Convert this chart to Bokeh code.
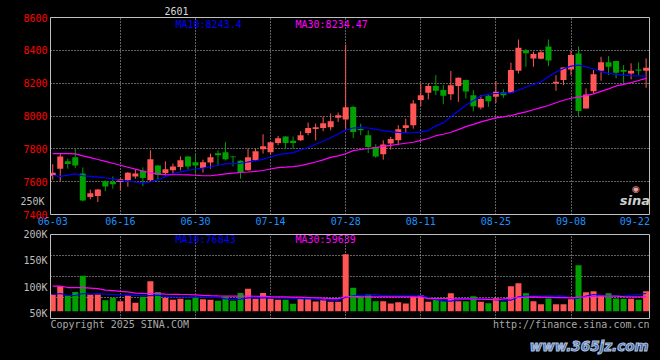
from bokeh.plotting import figure
from bokeh.models import (Range1d, FixedTicker, Label, ColumnDataSource, GlobalInlineStyleSheet,
                          LinearAxis, Title)
from bokeh.layouts import column
from bokeh.embed import file_html
from bokeh.resources import INLINE

# ---------------- data ----------------
CONTRACT = "2601"
DATE_TICK_INDEX = [0, 9, 19, 29, 39, 49, 59, 69, 79]
DATE_TICK_LABELS = ["06-03", "06-16", "06-30", "07-14", "07-28", "08-11", "08-25", "09-08", "09-22"]

OPEN = [7634, 7679, 7724, 7748, 7649, 7506, 7512, 7602, 7598, 7598,
        7608, 7632, 7667, 7608, 7699, 7653, 7669, 7689, 7754, 7718,
        7683, 7716, 7773, 7779, 7754, 7728, 7669, 7730, 7797, 7779,
        7836, 7875, 7850, 7852, 7897, 7921, 7927, 7932, 7989, 7978,
        8055, 7921, 7883, 7811, 7767, 7832, 7852, 7927, 7944, 8097,
        8141, 8182, 8158, 8133, 8182, 8219, 8127, 8052, 8123, 8117,
        8145, 8141, 8276, 8400, 8350, 8348, 8423, 8198, 8219, 8284,
        8381, 8046, 8151, 8276, 8327, 8335, 8280, 8259, 8284, 8276]
HIGH = [7706, 7771, 7740, 7799, 7687, 7551, 7556, 7608, 7632, 7618,
        7659, 7675, 7687, 7791, 7702, 7724, 7710, 7754, 7756, 7765,
        7734, 7771, 7791, 7840, 7756, 7730, 7801, 7801, 7889, 7842,
        7879, 7877, 7875, 7907, 7960, 7954, 7997, 8015, 8021, 8436,
        8062, 7954, 7913, 7828, 7852, 7873, 7944, 7984, 8097, 8198,
        8198, 8249, 8188, 8274, 8235, 8222, 8158, 8127, 8131, 8213,
        8162, 8325, 8466, 8408, 8392, 8403, 8466, 8249, 8296, 8398,
        8424, 8168, 8280, 8361, 8365, 8335, 8310, 8321, 8327, 8351]
LOW = [7612, 7602, 7679, 7683, 7480, 7492, 7476, 7543, 7557, 7547,
       7569, 7618, 7573, 7604, 7608, 7638, 7649, 7669, 7675, 7649,
       7655, 7679, 7699, 7730, 7693, 7618, 7667, 7728, 7771, 7765,
       7822, 7801, 7801, 7848, 7883, 7852, 7907, 7913, 7964, 7915,
       7866, 7883, 7775, 7746, 7734, 7795, 7822, 7897, 7923, 8060,
       8101, 8127, 8072, 8097, 8086, 8107, 8029, 8040, 8056, 8080,
       8111, 8141, 8259, 8300, 8300, 8345, 8304, 8153, 8188, 8249,
       7999, 8046, 8137, 8215, 8249, 8229, 8202, 8223, 8249, 8172]
CLOSE = [7655, 7754, 7708, 7699, 7486, 7530, 7553, 7571, 7585, 7614,
         7655, 7649, 7622, 7736, 7642, 7675, 7693, 7730, 7693, 7699,
         7718, 7748, 7761, 7736, 7748, 7655, 7748, 7785, 7816, 7840,
         7864, 7836, 7836, 7883, 7927, 7932, 7956, 7968, 8005, 8054,
         7903, 7913, 7811, 7754, 7826, 7860, 7919, 7944, 8076, 8127,
         8182, 8154, 8123, 8188, 8233, 8150, 8060, 8103, 8090, 8147,
         8127, 8280, 8416, 8382, 8377, 8389, 8338, 8208, 8296, 8371,
         8031, 8131, 8255, 8327, 8300, 8263, 8270, 8276, 8276, 8294]
MA10 = [7638, 7632, 7640, 7647, 7636, 7632, 7628, 7624, 7616, 7608,
        7603, 7598, 7591, 7598, 7612, 7630, 7648, 7660, 7669, 7677,
        7683, 7690, 7700, 7708, 7710, 7712, 7720, 7727, 7737, 7750,
        7765, 7771, 7777, 7793, 7808, 7828, 7846, 7868, 7890, 7914,
        7927, 7929, 7927, 7919, 7911, 7905, 7900, 7897, 7898, 7903,
        7911, 7940, 7958, 7995, 8030, 8066, 8095, 8121, 8133, 8137,
        8139, 8141, 8158, 8175, 8192, 8208, 8239, 8268, 8288, 8304,
        8310, 8300, 8286, 8270, 8260, 8253, 8249, 8246, 8245, 8243]
MA30 = [7771, 7771, 7771, 7769, 7757, 7746, 7735, 7724, 7712, 7700,
        7688, 7676, 7665, 7653, 7646, 7643, 7642, 7642, 7641, 7639,
        7636, 7636, 7641, 7647, 7652, 7656, 7659, 7663, 7668, 7677,
        7686, 7688, 7692, 7698, 7708, 7720, 7733, 7748, 7757, 7770,
        7789, 7796, 7802, 7808, 7815, 7821, 7828, 7834, 7840, 7852,
        7863, 7880, 7889, 7901, 7917, 7935, 7949, 7964, 7976, 7989,
        7995, 8003, 8014, 8025, 8038, 8051, 8064, 8081, 8096, 8108,
        8115, 8124, 8135, 8150, 8165, 8183, 8193, 8203, 8216, 8229]
VOLUME_K = [85.7, 101.5, 83.8, 90.7, 121.2, 85.7, 85.7, 74.9, 79.3, 73.0,
            84.4, 69.8, 81.2, 111.0, 90.7, 79.3, 75.5, 77.4, 75.5, 81.2,
            76.8, 75.5, 73.6, 81.2, 73.6, 88.8, 96.5, 77.4, 88.8, 78.0,
            75.5, 75.5, 67.9, 78.0, 78.0, 72.3, 76.8, 71.7, 71.7, 162.5,
            98.4, 81.2, 85.7, 73.0, 73.0, 68.5, 71.1, 68.5, 81.2, 84.4,
            71.7, 76.8, 73.0, 88.2, 73.0, 73.0, 82.5, 71.7, 69.2, 78.7,
            71.7, 101.5, 107.2, 88.2, 73.0, 67.2, 78.0, 67.2, 67.2, 76.8,
            141.5, 90.1, 92.0, 84.4, 88.2, 78.0, 77.4, 77.4, 75.5, 92.0]
VOL_MA10_K = [85.7, 87.6, 83.8, 83.8, 87.6, 86.3, 87.6, 86.3, 85.7, 85.0,
              84.4, 84.0, 83.7, 83.7, 84.4, 81.5, 81.2, 81.0, 80.8, 80.6,
              80.6, 80.3, 80.0, 77.5, 76.0, 76.8, 79.3, 79.3, 79.3, 79.3,
              79.0, 78.7, 78.3, 78.0, 77.5, 76.8, 75.5, 74.9, 74.9, 80.6,
              83.1, 84.0, 84.4, 85.7, 83.1, 83.1, 83.1, 83.1, 83.1, 83.1,
              80.0, 76.1, 73.5, 73.0, 76.0, 76.8, 76.8, 76.8, 76.8, 75.5,
              74.9, 74.9, 81.2, 82.5, 82.5, 82.5, 82.5, 82.5, 82.5, 79.0,
              79.0, 82.5, 85.7, 84.0, 82.5, 82.5, 82.5, 84.4, 85.7, 87.6]
VOL_MA30_K = [101.5, 101.5, 99.0, 99.0, 98.8, 98.0, 97.0, 94.0, 93.0, 91.5,
              90.7, 88.5, 88.0, 87.6, 87.2, 86.5, 86.0, 85.8, 85.7, 85.0,
              84.2, 83.5, 83.0, 82.7, 82.5, 82.5, 82.5, 82.4, 82.0, 81.6,
              81.3, 81.1, 80.8, 80.6, 80.0, 79.4, 78.7, 78.0, 78.0, 81.9,
              81.9, 81.5, 81.2, 81.2, 81.2, 81.2, 81.2, 81.2, 81.2, 81.0,
              78.0, 78.0, 78.0, 78.0, 77.5, 77.4, 77.0, 76.8, 76.5, 76.1,
              77.5, 79.0, 80.0, 80.8, 81.2, 80.8, 80.4, 79.9, 79.7, 79.3,
              80.5, 81.2, 82.0, 82.5, 82.5, 82.5, 81.8, 81.2, 81.2, 81.2]
PRICE_TICKS = [7400, 7600, 7800, 8000, 8200, 8400, 8600]
VOL_TICKS_K = [50, 100, 150, 200]
VOL_GRID_K = [80, 120, 160]
VOL_OVERFLOW_LABEL = "250K"
MA_PRICE_TEXT = ["MA10:8243.4", "MA30:8234.47"]
MA_VOL_TEXT = ["MA10:76843", "MA30:59639"]
COPYRIGHT = "Copyright 2025 SINA.COM"
SITE = "http://finance.sina.com.cn"
WATERMARK = "www.365jz.com"

# ---------------- styling ----------------
FONT = "DejaVu Sans Mono"
UP, DOWN = "#FF5555", "#00A000"
MA10_C, MA30_C = "#0000FF", "#FF00FF"
FRAME_C = "#C0C0C0"
VOL_LABEL_C = "#BEBEBE"
VOL_BASE = 54000

n = len(CLOSE)
idx = list(range(n))
colors = [UP if c >= o else DOWN for o, c in zip(OPEN, CLOSE)]
src = ColumnDataSource(dict(
    x=idx, h=HIGH, l=LOW,
    top=[max(o, c) for o, c in zip(OPEN, CLOSE)],
    bottom=[min(o, c) for o, c in zip(OPEN, CLOSE)],
    color=colors, ma10=MA10, ma30=MA30,
    vol=[v * 1000 for v in VOLUME_K],
    vma10=[v * 1000 for v in VOL_MA10_K],
    vma30=[v * 1000 for v in VOL_MA30_K],
))

xr = Range1d(-0.3, 79.45)

def style_axis(ax):
    ax.axis_line_color = None
    ax.major_tick_line_color = None
    ax.minor_tick_line_color = None
    ax.major_tick_out = 0
    ax.major_tick_in = 0
    ax.major_label_text_font = FONT
    ax.major_label_text_font_size = "10px"

def base_fig(x_range, yr, fh, top, bottom, xloc, yloc="left"):
    p = figure(frame_width=599, frame_height=fh, x_range=x_range, y_range=yr,
               output_backend="svg", toolbar_location=None,
               background_fill_color="black", border_fill_color="black",
               min_border_left=50, min_border_right=11,
               min_border_top=top, min_border_bottom=bottom,
               x_axis_location=xloc, y_axis_location=yloc)
    p.outline_line_color = FRAME_C
    p.outline_line_width = 1
    for g in (p.xgrid, p.ygrid):
        g.grid_line_color = FRAME_C
        g.grid_line_dash = "1 2"
        g.grid_line_width = 1
    for ax in p.axis:
        style_axis(ax)
    p.xgrid.ticker = FixedTicker(ticks=DATE_TICK_INDEX[1:-1])
    return p

def lab(p, x, y, text, color, size="10px", align="left", font=FONT, style="normal"):
    p.add_layout(Label(x=x, y=y, text=text, text_color=color, text_font=font,
                       text_font_size=size, text_align=align, text_baseline="middle",
                       text_font_style=style))

# ---------------- price panel ----------------
p1 = base_fig(xr, Range1d(PRICE_TICKS[0], PRICE_TICKS[-1]), 197, 17, 14, "below")
p1.title = Title(text=CONTRACT, align="left", offset=114, standoff=4, vertical_align="middle",
                 text_font=FONT, text_font_size="10px", text_font_style="normal",
                 text_color="#D8D8D8")
p1.yaxis.ticker = FixedTicker(ticks=PRICE_TICKS)
p1.yaxis.major_label_text_color = "#FF0000"
p1.yaxis.major_label_standoff = 3
p1.ygrid.ticker = FixedTicker(ticks=PRICE_TICKS[1:-1])
label_pos = [min(i, 77.5) for i in DATE_TICK_INDEX]
p1.xaxis.ticker = FixedTicker(ticks=label_pos)
p1.xaxis.major_label_overrides = {pos: t for pos, t in zip(label_pos, DATE_TICK_LABELS)}
p1.xaxis.major_label_text_color = "#1E90FF"
p1.xaxis.major_label_standoff = 2

# the volume scale's "250K" label that spills into the price panel (gray, left side)
over_pos = 7482
ax250 = LinearAxis(ticker=FixedTicker(ticks=[over_pos]),
                   major_label_overrides={over_pos: VOL_OVERFLOW_LABEL})
style_axis(ax250)
ax250.major_label_text_color = VOL_LABEL_C
ax250.major_label_standoff = -24
p1.add_layout(ax250, "left")

p1.segment(x0="x", y0="h", x1="x", y1="l", line_color="color", line_width=1, source=src)
p1.vbar(x="x", width=0.8, top="top", bottom="bottom", fill_color="color", line_color=None, source=src)
p1.line("x", "ma10", line_color=MA10_C, line_width=1.2, source=src)
p1.line("x", "ma30", line_color=MA30_C, line_width=1.2, source=src)

lab(p1, 16.34, 8559, MA_PRICE_TEXT[0], MA10_C)
lab(p1, 32.32, 8559, MA_PRICE_TEXT[1], MA30_C)
lab(p1, 77.5, 7485, "sina", "#CFCFCF", size="13px", align="center", font="DejaVu Sans", style="bold italic")
lab(p1, 77.6, 7553, "\u25c9", "#F4A0A0", size="9px", align="center", font="DejaVu Sans")

# ---------------- volume panel ----------------
p2 = base_fig(xr, Range1d(40000, 200000), 84, 6, 1, None)
p2.yaxis.ticker = FixedTicker(ticks=[k * 1000 for k in VOL_TICKS_K])
p2.yaxis.major_label_overrides = {k * 1000: f"{k}K" for k in VOL_TICKS_K}
p2.yaxis.major_label_text_color = VOL_LABEL_C
p2.yaxis.major_label_standoff = 3
p2.ygrid.ticker = FixedTicker(ticks=[k * 1000 for k in VOL_GRID_K])

p2.vbar(x="x", width=0.8, top="vol", bottom=VOL_BASE, fill_color="color", line_color=None, source=src)
p2.line("x", "vma10", line_color=MA10_C, line_width=1.2, source=src)
p2.line("x", "vma30", line_color=MA30_C, line_width=1.2, source=src)

lab(p2, 16.34, 191000, MA_VOL_TEXT[0], MA10_C)
lab(p2, 32.32, 191000, MA_VOL_TEXT[1], MA30_C)

# ---------------- footer strip (pixel coordinates, same frame columns) ----------------
p3 = base_fig(Range1d(50, 649), Range1d(359, 319), 40, 0, 0, None, None)
p3.outline_line_color = None
p3.grid.visible = False
lab(p3, 50, 324, COPYRIGHT, "#A8A8A8")
lab(p3, 649, 324, SITE, "#A8A8A8", align="right")
p3.add_layout(Label(x=648, y=345, text=WATERMARK, text_color="#3A62A0", text_font="DejaVu Sans",
                    text_font_size="13.5px", text_font_style="bold italic", text_align="right",
                    text_baseline="middle", text_outline_color="#AFC3E0"))

page = column(p1, p2, p3, spacing=0,
              stylesheets=[GlobalInlineStyleSheet(css="html, body { background-color: #000; }")])

open("out.html", "w").write(file_html(page, INLINE))
